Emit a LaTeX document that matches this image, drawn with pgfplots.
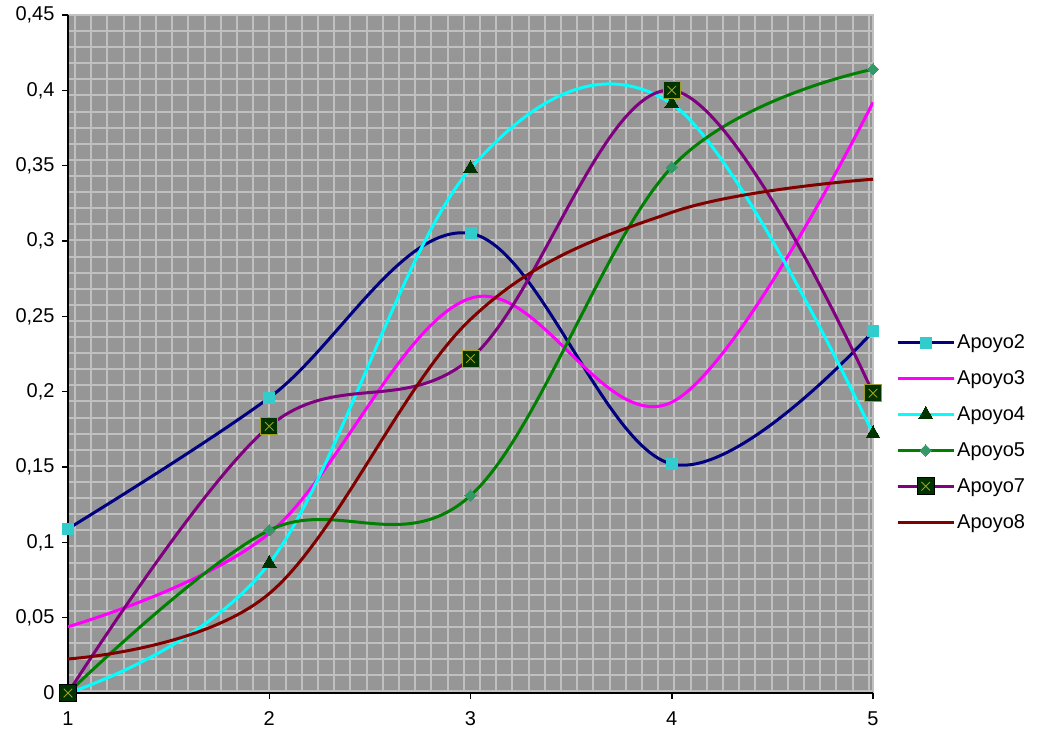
\documentclass[border=0pt]{standalone}
\usepackage{pgfplots}
\pgfplotsset{compat=1.18}
\usepackage{fontspec}
\setmainfont{Liberation Sans}
\definecolor{cA2}{HTML}{000080}
\definecolor{cA3}{HTML}{FF00FF}
\definecolor{cA4}{HTML}{00FFFF}
\definecolor{cA5}{HTML}{008000}
\definecolor{cA7}{HTML}{800080}
\definecolor{cA8}{HTML}{800000}
\definecolor{mA2}{HTML}{33CCCC}
\definecolor{mdg}{HTML}{003300}
\definecolor{mA5}{HTML}{339966}
\definecolor{xcol}{HTML}{A0A020}
\definecolor{bgc}{HTML}{969696}
\definecolor{gridc}{HTML}{C0C0C0}
\pgfdeclareplotmark{sqx}{%
  \pgfpathrectangle{\pgfqpoint{-\pgfplotmarksize}{-\pgfplotmarksize}}{\pgfqpoint{2\pgfplotmarksize}{2\pgfplotmarksize}}%
  \pgfusepathqfillstroke
  \pgfsetstrokecolor{xcol}\pgfsetlinewidth{0.9pt}%
  \pgfpathmoveto{\pgfqpoint{-0.5\pgfplotmarksize}{-0.5\pgfplotmarksize}}%
  \pgfpathlineto{\pgfqpoint{0.5\pgfplotmarksize}{0.5\pgfplotmarksize}}%
  \pgfpathmoveto{\pgfqpoint{-0.5\pgfplotmarksize}{0.5\pgfplotmarksize}}%
  \pgfpathlineto{\pgfqpoint{0.5\pgfplotmarksize}{-0.5\pgfplotmarksize}}%
  \pgfusepathqstroke}
\begin{document}
\begin{tikzpicture}
\begin{axis}[name=ax, at={(0,0)}, anchor=south west,
  scale only axis, width=805pt, height=678pt,
  xmin=1, xmax=5, ymin=0, ymax=0.45,
  xtick={1,2,3,4,5},
  ytick={0,0.05,0.1,0.15,0.2,0.25,0.3,0.35,0.4,0.45},
  minor xtick={1.035,1.1155,...,5},
  minor ytick={0.0011,0.011789,...,0.451},
  minor tick length=0pt,
  xminorgrids=true, yminorgrids=true,
  minor grid style={color=gridc, line width=2pt},
  axis background/.style={fill=bgc, draw=gridc, line width=2pt},
  axis x line*=bottom, axis y line*=left,
  axis line style={black, line width=1.5pt, -},
  tick align=outside, major tick length=6pt,
  major tick style={black, line width=1.5pt},
  tick label style={font=\fontsize{20}{23}\selectfont},
  yticklabel style={xshift=-4pt, /pgf/number format/.cd, fixed, precision=2, use comma, assume math mode=true},
  xticklabel style={yshift=-9pt, /pgf/number format/assume math mode=true},
  clip mode=individual,
  legend cell align=left,
  legend style={at={(axis description cs:1.0286,0.5316)}, anchor=north west,
    draw=none, fill=none, inner sep=0pt, row sep=16.6pt, column sep=0pt,
    font=\fontsize{20}{23}\selectfont, nodes={inner sep=2pt}},
  legend image code/.code={\draw[mark repeat=2,mark phase=2] plot coordinates {(0pt,0pt)(28pt,0pt)(56pt,0pt)};},
  every axis plot/.append style={smooth, tension=0.6, line width=3pt},
]
\addplot[cA2, mark=square*, mark size=5.5pt, mark options={fill=mA2, draw=mA2, line width=0pt}]
  coordinates {(1,0.109) (2,0.196) (3,0.305) (4,0.152) (5,0.240)};
\addlegendentry{Apoyo2}
\addplot[cA3, no marks]
  coordinates {(1,0.044) (2,0.106) (3,0.262) (4,0.193) (5,0.392)};
\addlegendentry{Apoyo3}
\addplot[cA4, mark=triangle*, mark size=8pt, mark options={fill=mdg, draw=mdg, line width=0pt}]
  coordinates {(1,0) (2,0.086) (3,0.348) (4,0.391) (5,0.172)};
\addlegendentry{Apoyo4}
\addplot[cA5, mark=square*, mark size=4pt, mark options={rotate=45, fill=mA5, draw=mA5, line width=0pt}]
  coordinates {(1,0) (2,0.108) (3,0.131) (4,0.349) (5,0.414)};
\addlegendentry{Apoyo5}
\addplot[cA7, mark=sqx, mark size=8.5pt, mark options={fill=mdg, draw=black, line width=1pt}]
  coordinates {(1,0) (2,0.177) (3,0.222) (4,0.400) (5,0.199)};
\addlegendentry{Apoyo7}
\addplot[cA8, no marks]
  coordinates {(1,0.0226) (2,0.066) (3,0.248) (4,0.319) (5,0.341)};
\addlegendentry{Apoyo8}
\end{axis}
\path (ax.south west) ++(-68pt,-45pt) coordinate (bbA);
\path (ax.north east) ++(164pt,15pt) coordinate (bbB);
\path (bbA) rectangle (bbB);
\end{tikzpicture}
\end{document}
